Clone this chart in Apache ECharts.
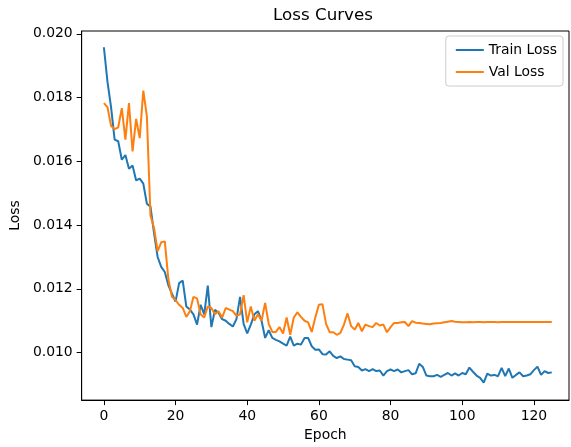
<!DOCTYPE html>
<html>
<head>
<meta charset="utf-8">
<script src="https://cdn.jsdelivr.net/npm/echarts@6/dist/echarts.min.js"></script>
<style>
html,body{margin:0;padding:0;background:#fff;}
#chart{width:571px;height:447px;}
</style>
</head>
<body>
<div id="chart"></div>
<script>
const trainLoss = [
0.01958,0.01850,0.01770,0.01668,0.01663,0.01605,0.01620,0.01577,0.01587,0.01540,
0.01546,0.01530,0.01467,0.01458,0.01375,0.01300,0.01269,0.01253,0.01211,0.01185,
0.01160,0.01218,0.01226,0.01145,0.01135,0.01120,0.01088,0.01150,0.01120,0.01210,
0.01080,0.01134,0.01125,0.01105,0.01100,0.01090,0.01082,0.01105,0.01175,0.01090,
0.01060,0.01088,0.01120,0.01130,0.01100,0.01046,0.01070,0.01046,0.01040,0.01035,
0.01028,0.01022,0.01050,0.01022,0.01028,0.01025,0.01046,0.01046,0.01020,0.01009,
0.01010,0.00995,0.00994,0.01004,0.00990,0.00983,0.00988,0.00980,0.00978,0.00976,
0.00957,0.00955,0.00944,0.00948,0.00942,0.00948,0.00942,0.00944,0.00928,0.00942,
0.00947,0.00942,0.00947,0.00938,0.00942,0.00945,0.00932,0.00935,0.00965,0.00955,
0.00928,0.00926,0.00926,0.00930,0.00924,0.00930,0.00936,0.00928,0.00935,0.00928,
0.00936,0.00932,0.00953,0.00940,0.00928,0.00921,0.00906,0.00934,0.00928,0.00930,
0.00926,0.00952,0.00926,0.00950,0.00921,0.00930,0.00938,0.00926,0.00928,0.00932,
0.00945,0.00956,0.00930,0.00942,0.00936,0.00938
];
const valLoss = [
0.01783,0.01770,0.01712,0.01701,0.01707,0.01767,0.01668,0.01783,0.01631,0.01733,
0.01673,0.01822,0.01741,0.01430,0.01391,0.01318,0.01346,0.01349,0.01230,0.01175,
0.01165,0.01150,0.01140,0.01112,0.01130,0.01175,0.01170,0.01120,0.01110,0.01145,
0.01140,0.01120,0.01130,0.01110,0.01140,0.01135,0.01130,0.01115,0.01120,0.01180,
0.01095,0.01145,0.01100,0.01120,0.01100,0.01156,0.01090,0.01065,0.01065,0.01080,
0.01060,0.01110,0.01056,0.01110,0.01126,0.01112,0.01100,0.01095,0.01065,0.01110,
0.01150,0.01152,0.01090,0.01064,0.01064,0.01056,0.01062,0.01088,0.01123,0.01083,
0.01072,0.01093,0.01067,0.01088,0.01083,0.01080,0.01093,0.01085,0.01088,0.01064,
0.01080,0.01093,0.01093,0.01095,0.01096,0.01083,0.01099,0.01094,0.01093,0.01091,
0.01090,0.01089,0.01091,0.01092,0.01093,0.01095,0.01097,0.01099,0.01097,0.01096,
0.01095,0.01095,0.01096,0.01095,0.01096,0.01096,0.01095,0.01096,0.01096,0.01096,
0.01095,0.01096,0.01096,0.01096,0.01096,0.01096,0.01096,0.01096,0.01096,0.01096,
0.01096,0.01096,0.01096,0.01096,0.01096,0.01096
];
const xTicks = [0, 20, 40, 60, 80, 100, 120];
const yTicks = [0.010, 0.012, 0.014, 0.016, 0.018, 0.020];
const seriesNames = ['Train Loss', 'Val Loss'];
const titleText = 'Loss Curves';
const xName = 'Epoch';
const yName = 'Loss';

const epochs = trainLoss.map((_, i) => i);
const toPairs = arr => arr.map((v, i) => [epochs[i], v]);

const FONT = 'DejaVu Sans';
const chart = echarts.init(document.getElementById('chart'), null, {renderer: 'canvas'});
chart.setOption({
  animation: false,
  backgroundColor: '#fff',
  textStyle: {fontFamily: FONT},
  title: {
    text: titleText,
    left: 318,
    top: 2,
    textAlign: 'center',
    textStyle: {fontFamily: FONT, fontSize: 16.7, fontWeight: 'normal', color: '#000'}
  },
  legend: {
    orient: 'vertical',
    right: 8,
    top: 36,
    data: seriesNames,
    icon: 'rect',
    itemWidth: 28,
    itemHeight: 2,
    itemGap: 8,
    itemTextGap: 7,
    padding: [7, 6, 7, 10],
    backgroundColor: 'rgba(255,255,255,0.8)',
    borderColor: '#cccccc',
    borderWidth: 1,
    borderRadius: 3,
    textStyle: {fontFamily: FONT, fontSize: 13.9, color: '#000'}
  },
  grid: {
    left: 77, right: 2, top: 31, bottom: 46,
    show: true, borderColor: '#000', borderWidth: 1, backgroundColor: '#fff'
  },
  xAxis: {
    type: 'value',
    min: -6.2, max: 129.8,
    name: xName,
    nameLocation: 'middle',
    nameGap: 27,
    nameTextStyle: {fontFamily: FONT, fontSize: 13.9, color: '#000'},
    axisLine: {show: true, onZero: false, lineStyle: {color: '#000', width: 1}},
    axisTick: {show: true, inside: false, length: 5, lineStyle: {color: '#000'}, customValues: xTicks},
    axisLabel: {show: true, margin: 9, fontFamily: FONT, fontSize: 13.9, color: '#000', customValues: xTicks,
      formatter: v => String(v)},
    splitLine: {show: false}
  },
  yAxis: {
    type: 'value',
    min: 0.00851, max: 0.02009,
    name: yName,
    nameLocation: 'middle',
    nameRotate: 90,
    nameGap: 56,
    nameTextStyle: {fontFamily: FONT, fontSize: 13.9, color: '#000'},
    axisLine: {show: true, onZero: false, lineStyle: {color: '#000', width: 1}},
    axisTick: {show: true, inside: false, length: 5, lineStyle: {color: '#000'}, customValues: yTicks},
    axisLabel: {show: true, margin: 9, fontFamily: FONT, fontSize: 13.9, color: '#000', customValues: yTicks,
      formatter: v => v.toFixed(3)},
    splitLine: {show: false}
  },
  series: [
    {name: seriesNames[0], type: 'line', data: toPairs(trainLoss), showSymbol: false, symbol: 'none',
     lineStyle: {color: '#1f77b4', width: 2}, itemStyle: {color: '#1f77b4'}},
    {name: seriesNames[1], type: 'line', data: toPairs(valLoss), showSymbol: false, symbol: 'none',
     lineStyle: {color: '#ff7f0e', width: 2}, itemStyle: {color: '#ff7f0e'}}
  ]
});
</script>
</body>
</html>
